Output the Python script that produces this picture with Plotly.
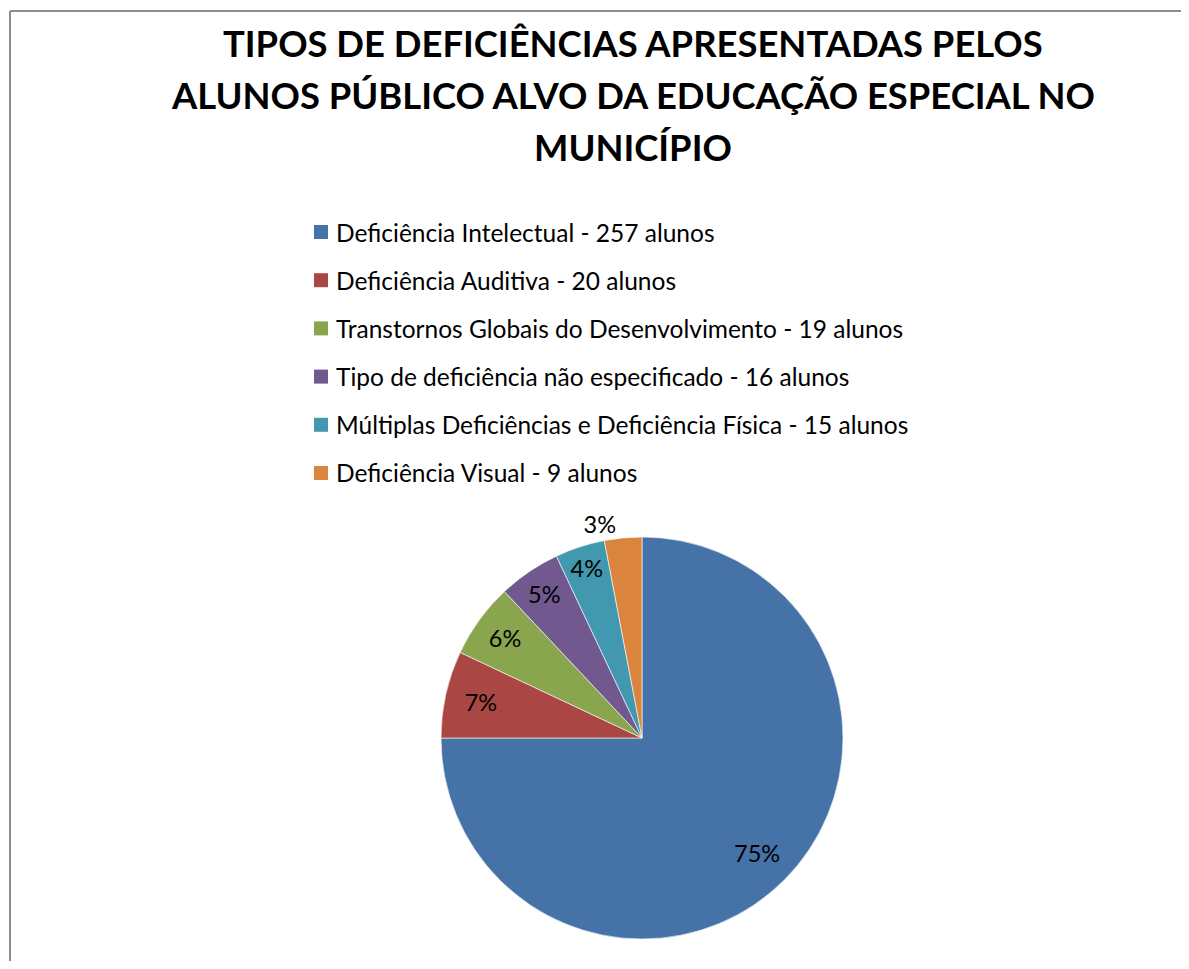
import math
import plotly.graph_objects as go

labels = [
    "Deficiência Intelectual - 257 alunos",
    "Deficiência Auditiva - 20 alunos",
    "Transtornos Globais do Desenvolvimento - 19 alunos",
    "Tipo de deficiência não especificado - 16 alunos",
    "Múltiplas Deficiências e Deficiência Física - 15 alunos",
    "Deficiência Visual - 9 alunos",
]
percent_values = [75, 7, 6, 5, 4, 3]
colors = ["#4572A7", "#AA4643", "#89A54E", "#71588F", "#4198AF", "#DB843D"]
title_lines = [
    "TIPOS DE DEFICIÊNCIAS APRESENTADAS PELOS",
    "ALUNOS PÚBLICO ALVO DA EDUCAÇÃO ESPECIAL NO",
    "MUNICÍPIO",
]

OFF = 8  # page body margin offset
W, H = 1189 - 2 * OFF, 969 - 2 * OFF
FONT = "Lato"


def px(x):
    return (x - OFF) / W


def py(y):
    return 1 - (y - OFF) / H


# pie placement (reference pixels)
PIE_L, PIE_R, PIE_T, PIE_B = 441, 843, 537, 939
cx, cy = (PIE_L + PIE_R) / 2, (PIE_T + PIE_B) / 2
R = (PIE_R - PIE_L) / 2

# the big slice's label is placed Excel-style along its bisector
text_pos = ["none", "inside", "inside", "inside", "inside", "outside"]

fig = go.Figure()
fig.add_trace(go.Pie(
    labels=labels,
    values=percent_values,
    sort=False,
    direction="clockwise",
    rotation=0,
    marker=dict(colors=colors, line=dict(color="white", width=0.6)),
    texttemplate="%{value}%",
    textposition=text_pos,
    insidetextorientation="horizontal",
    textfont=dict(family=FONT, size=23.5, color="black"),
    outsidetextfont=dict(family=FONT, size=23.5, color="black"),
    showlegend=False,
    hoverinfo="label+percent",
    domain=dict(x=[px(PIE_L), px(PIE_R)], y=[py(PIE_B), py(PIE_T)]),
))

total = sum(percent_values)
cum = 0
for v, tp in zip(percent_values, text_pos):
    if tp == "none":
        mid = (cum + v / 2) / total * 2 * math.pi
        lx = cx + 0.81 * R * math.sin(mid)
        ly = cy - 0.81 * R * math.cos(mid)
        fig.add_annotation(x=px(lx), y=py(ly), xref="paper", yref="paper",
                           text=f"{v}%", showarrow=False, xanchor="center", yanchor="middle",
                           font=dict(family=FONT, size=23.5, color="black"))
    cum += v

# legend drawn manually for Excel-like spacing
leg_x_marker = 314
leg_y0 = 232
leg_dy = 48.2
for i, (lab, col) in enumerate(zip(labels, colors)):
    yc = leg_y0 + i * leg_dy
    fig.add_shape(type="rect", xref="paper", yref="paper",
                  x0=px(leg_x_marker), x1=px(leg_x_marker + 14),
                  y0=py(yc + 7), y1=py(yc - 7),
                  fillcolor=col, line=dict(width=0))
    fig.add_annotation(x=px(leg_x_marker + 20), y=py(yc), xref="paper", yref="paper",
                       text=lab, showarrow=False, xanchor="left", yanchor="middle",
                       font=dict(family=FONT, size=24.5, color="black"))

# title lines
for i, line in enumerate(title_lines):
    fig.add_annotation(x=px(633), y=py(43 + i * 52), xref="paper", yref="paper",
                       text="<b>" + line + "</b>", showarrow=False,
                       xanchor="center", yanchor="middle",
                       font=dict(family=FONT, size=36.4, color="black"))

# chart frame (left and top edges visible)
fig.add_shape(type="line", xref="paper", yref="paper",
              x0=px(10), x1=px(10), y0=0, y1=py(11),
              line=dict(color="#8c8c8c", width=2), layer="below")
fig.add_shape(type="line", xref="paper", yref="paper",
              x0=px(10), x1=1, y0=py(11), y1=py(11),
              line=dict(color="#8c8c8c", width=2), layer="below")

fig.update_layout(
    width=W, height=H,
    margin=dict(l=0, r=0, t=0, b=0),
    paper_bgcolor="white",
    plot_bgcolor="white",
)

fig.write_html("out.html")
